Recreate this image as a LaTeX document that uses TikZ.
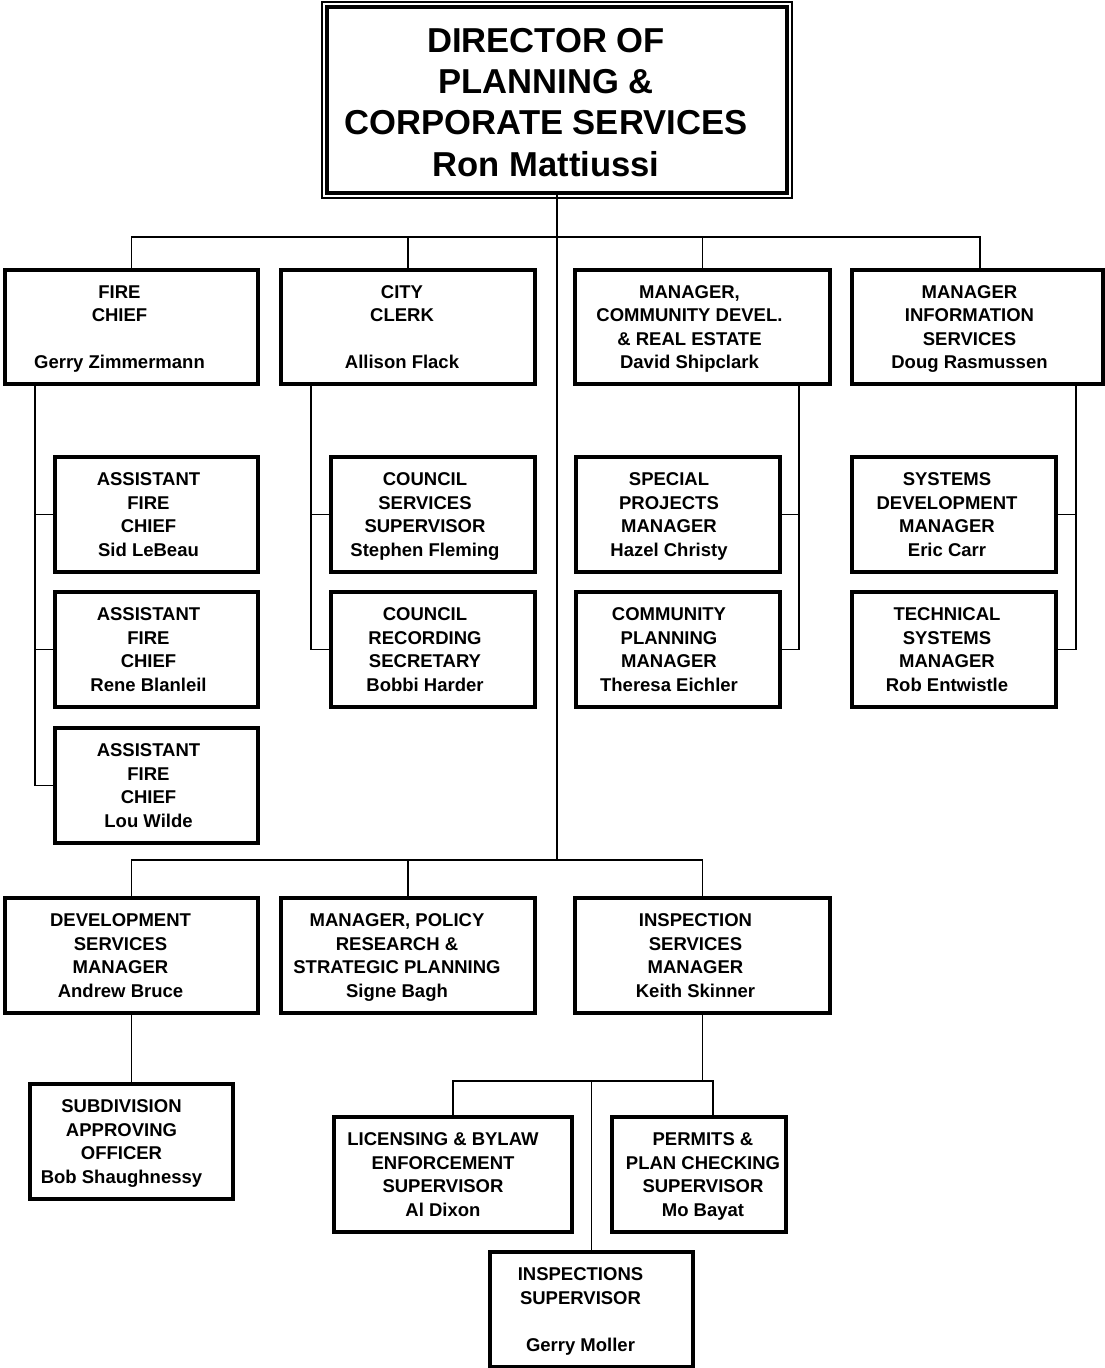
\documentclass[tikz,border=0pt]{standalone}
\usepackage{fontspec}
\setmainfont{Liberation Sans}
\newcommand\orgtxt[3][16pt]{\begin{tabular}{@{}c@{}}#3\\[#2]\end{tabular}\hspace*{#1}}
\begin{document}
\begin{tikzpicture}[x=1pt,y=-1pt,
  box/.style={draw,line width=3.2pt,inner sep=0pt,outer sep=0pt,minimum height=115pt,
    font=\fontsize{18.5}{23.5}\selectfont\bfseries},
  conn/.style={line width=1.8pt}]
\useasboundingbox (0,0) rectangle (1105,1368);
% director
\node[draw,line width=4pt,inner sep=0pt,outer sep=0pt,minimum width=460pt,minimum height=186pt,
  font=\fontsize{34.6}{41.3}\selectfont\bfseries] (dir) at (557,100)
  {\orgtxt[22pt]{-12pt}{DIRECTOR OF\\PLANNING \&\\CORPORATE SERVICES\\Ron Mattiussi}};
\draw[line width=1.5pt] ([shift={(-5pt,5pt)}]dir.north west) rectangle ([shift={(5pt,-5pt)}]dir.south east);
% row 1
\node[box,minimum width=253pt,minimum height=114pt] (fire) at (131.5,327) {\orgtxt[24pt]{-4pt}{FIRE\\CHIEF\\ \\Gerry Zimmermann}};
\node[box,minimum width=254pt,minimum height=114pt] (clerk) at (408,327) {\orgtxt[12pt]{-4pt}{CITY\\CLERK\\ \\Allison Flack}};
\node[box,minimum width=255pt,minimum height=114pt] (comm) at (702.5,327) {\orgtxt[26pt]{-4pt}{MANAGER,\\COMMUNITY DEVEL.\\\& REAL ESTATE\\David Shipclark}};
\node[box,minimum width=251pt,minimum height=114pt] (info) at (977.5,327) {\orgtxt[16pt]{-4pt}{MANAGER\\INFORMATION\\SERVICES\\Doug Rasmussen}};
% fire subordinates
\node[box,minimum width=203pt] (af1) at (156.5,514.5) {\orgtxt{-4pt}{ASSISTANT\\FIRE\\CHIEF\\Sid LeBeau}};
\node[box,minimum width=203pt] (af2) at (156.5,649.5) {\orgtxt{-4pt}{ASSISTANT\\FIRE\\CHIEF\\Rene Blanleil}};
\node[box,minimum width=203pt] (af3) at (156.5,785.5) {\orgtxt{-4pt}{ASSISTANT\\FIRE\\CHIEF\\Lou Wilde}};
% clerk subordinates
\node[box,minimum width=204pt] (cs1) at (433,514.5) {\orgtxt{-4pt}{COUNCIL\\SERVICES\\SUPERVISOR\\Stephen Fleming}};
\node[box,minimum width=204pt] (cs2) at (433,649.5) {\orgtxt{-4pt}{COUNCIL\\RECORDING\\SECRETARY\\Bobbi Harder}};
% community subordinates
\node[box,minimum width=204pt] (sp1) at (678,514.5) {\orgtxt[18pt]{-4pt}{SPECIAL\\PROJECTS\\MANAGER\\Hazel Christy}};
\node[box,minimum width=204pt] (sp2) at (678,649.5) {\orgtxt[18pt]{-4pt}{COMMUNITY\\PLANNING\\MANAGER\\Theresa Eichler}};
% info subordinates
\node[box,minimum width=204pt] (sd1) at (954,514.5) {\orgtxt[14pt]{-4pt}{SYSTEMS\\DEVELOPMENT\\MANAGER\\Eric Carr}};
\node[box,minimum width=204pt] (sd2) at (954,649.5) {\orgtxt[14pt]{-4pt}{TECHNICAL\\SYSTEMS\\MANAGER\\Rob Entwistle}};
% row 2
\node[box,minimum width=253pt] (dev) at (131.5,955.5) {\orgtxt[22pt]{-4pt}{DEVELOPMENT\\SERVICES\\MANAGER\\Andrew Bruce}};
\node[box,minimum width=254pt] (pol) at (408,955.5) {\orgtxt[22pt]{-4pt}{MANAGER, POLICY\\RESEARCH \&\\STRATEGIC PLANNING\\Signe Bagh}};
\node[box,minimum width=255pt] (insp) at (702.5,955.5) {\orgtxt[14pt]{-4pt}{INSPECTION\\SERVICES\\MANAGER\\Keith Skinner}};
% row 3
\node[box,minimum width=203pt] (sub) at (131.5,1141.5) {\orgtxt[20pt]{-4pt}{SUBDIVISION\\APPROVING\\OFFICER\\Bob Shaughnessy}};
\node[box,minimum width=238pt] (lic) at (453,1174.5) {\orgtxt[20pt]{-4pt}{LICENSING \& BYLAW\\ENFORCEMENT\\SUPERVISOR\\Al Dixon}};
\node[box,minimum width=174pt] (per) at (699,1174.5) {\orgtxt[-8pt]{-4pt}{PERMITS \&\\PLAN CHECKING\\SUPERVISOR\\Mo Bayat}};
\node[box,minimum width=203pt] (isup) at (591.5,1309.5) {\orgtxt[22pt]{-4pt}{INSPECTIONS\\SUPERVISOR\\ \\Gerry Moller}};
% connectors
\coordinate (busA) at (556,237);
\coordinate (busB) at (556,860);
\coordinate (busC) at (592,1081);
\draw[conn] (dir.south) -- (dir.south |- busB);
\draw[conn] (fire.north) -- (fire.north |- busA) -- ([xshift=2.5pt]info.north |- busA) -- ([xshift=2.5pt]info.north);
\draw[conn] (clerk.north) -- (clerk.north |- busA);
\draw[conn] (comm.north) -- (comm.north |- busA);
\draw[conn] ([xshift=-20pt]af1.west |- fire.south) -- ([xshift=-20pt]af3.west) -- (af3.west);
\draw[conn] ([xshift=-20pt]af1.west) -- (af1.west);
\draw[conn] ([xshift=-20pt]af2.west) -- (af2.west);
\draw[conn] ([xshift=-20pt]cs1.west |- clerk.south) -- ([xshift=-20pt]cs2.west) -- (cs2.west);
\draw[conn] ([xshift=-20pt]cs1.west) -- (cs1.west);
\draw[conn] ([xshift=19pt]sp1.east |- comm.south) -- ([xshift=19pt]sp2.east) -- (sp2.east);
\draw[conn] ([xshift=19pt]sp1.east) -- (sp1.east);
\draw[conn] ([xshift=20pt]sd1.east |- info.south) -- ([xshift=20pt]sd2.east) -- (sd2.east);
\draw[conn] ([xshift=20pt]sd1.east) -- (sd1.east);
\draw[conn] (dev.north) -- (dev.north |- busB) -- (insp.north |- busB) -- (insp.north);
\draw[conn] (pol.north) -- (pol.north |- busB);
\draw[conn] (dev.south) -- (sub.north);
\draw[conn] (insp.south) -- (insp.south |- busC);
\draw[conn] (lic.north) -- (lic.north |- busC) -- ([xshift=14pt]per.north |- busC) -- ([xshift=14pt]per.north);
\draw[conn] (isup.north) -- (isup.north |- busC);
\end{tikzpicture}
\end{document}
